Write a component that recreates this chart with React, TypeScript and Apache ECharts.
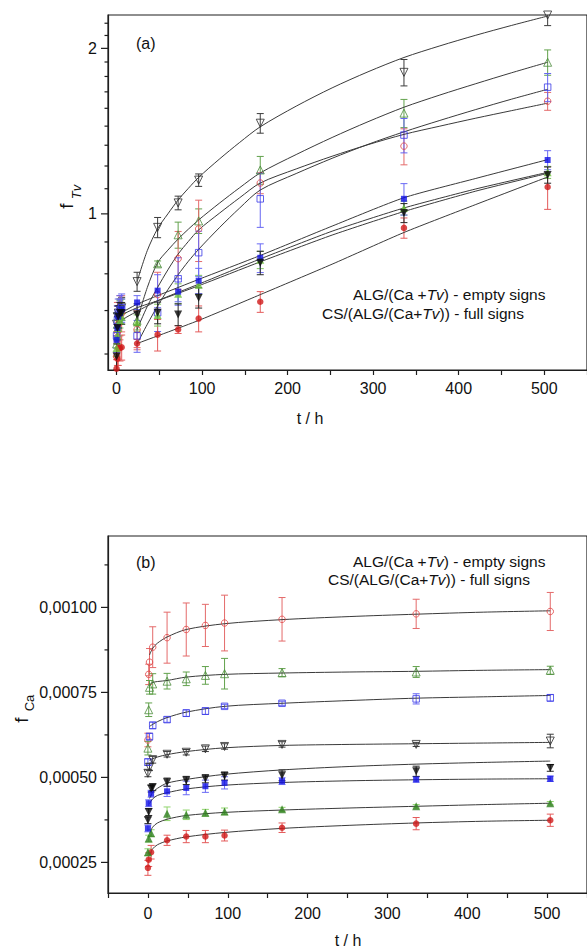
import React, { useEffect, useRef } from "react";
import * as echarts from "echarts";

const FONT = '"Liberation Sans", Arial, Helvetica, sans-serif';

// ---------------- Panel (a): f_Tv (log2 axis) ----------------
const A_T = [0, 1, 2, 4, 6, 24, 48, 72, 96, 168, 336, 504];
const A_EMPTY_DOWN = [0.63, 0.65, 0.66, 0.67, 0.675, 0.753, 0.945, 1.047, 1.152, 1.462, 1.809, 2.3];
const A_EMPTY_DOWN_ERR = [0.03, 0.03, 0.03, 0.03, 0.03, 0.03, 0.04, 0.03, 0.03, 0.06, 0.1, 0.1];
const A_EMPTY_UP = [0.58, 0.63, 0.65, 0.665, 0.67, 0.64, 0.811, 0.916, 0.971, 1.202, 1.525, 1.887];
const A_EMPTY_UP_ERR = [0.03, 0.03, 0.03, 0.03, 0.03, 0.03, 0.01, 0.05, 0.05, 0.07, 0.09, 0.1];
const A_EMPTY_CIRCLE = [0.55, 0.61, 0.63, 0.65, 0.66, 0.616, 0.713, 0.829, 0.939, 1.138, 1.328, 1.603];
const A_EMPTY_CIRCLE_ERR = [0.05, 0.08, 0.05, 0.06, 0.05, 0.05, 0.07, 0.1, 0.12, 0.05, 0.1, 0.06];
const A_EMPTY_SQUARE = [0.6, 0.64, 0.66, 0.67, 0.675, 0.6, 0.661, 0.762, 0.85, 1.065, 1.391, 1.7];
const A_EMPTY_SQUARE_ERR = [0.03, 0.04, 0.04, 0.04, 0.04, 0.04, 0.05, 0.07, 0.08, 0.12, 0.1, 0.1];
const A_FULL_SQUARE = [0.59, 0.62, 0.65, 0.66, 0.67, 0.69, 0.725, 0.722, 0.756, 0.832, 1.065, 1.253];
const A_FULL_SQUARE_ERR = [0.03, 0.03, 0.03, 0.03, 0.03, 0.02, 0.05, 0.04, 0.04, 0.05, 0.07, 0.05];
const A_FULL_UP = [0.57, 0.6, 0.62, 0.64, 0.65, 0.635, 0.655, 0.716, 0.743, 0.825, 1.025, 1.19];
const A_FULL_UP_ERR = [0.02, 0.02, 0.02, 0.02, 0.02, 0.02, 0.03, 0.03, 0.03, 0.03, 0.03, 0.03];
const A_FULL_DOWN = [0.55, 0.62, 0.65, 0.66, 0.66, 0.656, 0.661, 0.656, 0.704, 0.815, 1.004, 1.177];
const A_FULL_DOWN_ERR = [0.03, 0.03, 0.03, 0.03, 0.03, 0.03, 0.03, 0.03, 0.03, 0.04, 0.04, 0.04];
const A_FULL_CIRCLE = [0.523, 0.545, 0.57, 0.57, 0.572, 0.581, 0.603, 0.616, 0.645, 0.692, 0.943, 1.119];
const A_FULL_CIRCLE_ERR = [0.02, 0.04, 0.04, 0.03, 0.03, 0.01, 0.04, 0.01, 0.035, 0.03, 0.04, 0.1];

// fitted curves
const A_CT_OPEN = [24, 36, 48, 60, 72, 84, 96, 120, 144, 168, 210, 252, 294, 336, 378, 420, 462, 504];
const A_FIT_EMPTY_DOWN = [0.753, 0.858, 0.94, 1.0, 1.06, 1.113, 1.165, 1.257, 1.349, 1.44, 1.57, 1.695, 1.813, 1.925, 2.021, 2.113, 2.202, 2.29];
const A_FIT_EMPTY_UP = [0.64, 0.735, 0.815, 0.859, 0.9, 0.938, 0.975, 1.045, 1.116, 1.187, 1.282, 1.377, 1.471, 1.563, 1.645, 1.725, 1.806, 1.887];
const A_FIT_EMPTY_CIRCLE = [0.616, 0.679, 0.735, 0.791, 0.845, 0.891, 0.935, 1.002, 1.07, 1.138, 1.207, 1.273, 1.336, 1.395, 1.444, 1.493, 1.541, 1.59];
const A_FIT_EMPTY_SQUARE = [0.58, 0.63, 0.68, 0.728, 0.775, 0.82, 0.862, 0.943, 1.025, 1.105, 1.184, 1.262, 1.338, 1.41, 1.479, 1.548, 1.617, 1.685];
const A_CT_RED = [24, 96, 168, 252, 336, 420, 504];
const A_FIT_FULL_CIRCLE = [0.581, 0.64, 0.713, 0.81, 0.925, 1.04, 1.167];
const A_CT_FULL = [1, 24, 48, 96, 168, 252, 336, 420, 504];
const A_FIT_FULL_SQUARE = [0.655, 0.685, 0.71, 0.76, 0.84, 0.95, 1.07, 1.16, 1.255];
const A_FIT_FULL_UP = [0.635, 0.665, 0.695, 0.745, 0.828, 0.93, 1.025, 1.11, 1.19];
const A_FIT_FULL_DOWN = [0.65, 0.675, 0.695, 0.74, 0.818, 0.915, 1.01, 1.1, 1.185];

const A_X_TICKS = [0, 50, 100, 150, 200, 250, 300, 350, 400, 450, 500, 550];
const A_X_LABELS = [0, 100, 200, 300, 400, 500];
const A_Y_MAJOR = [1, 2];
const A_Y_MINOR = [0.556, 0.667, 0.778, 0.889, 1.111, 1.222, 1.333, 1.444, 1.556, 1.667, 1.778, 1.889, 2.111, 2.222];

// ---------------- Panel (b): f_Ca ----------------
const B_T = [0, 1, 2, 4, 6, 24, 48, 72, 96, 168, 336, 504];
const B_EMPTY_CIRCLE = [0.00061, 0.000803, 0.000839, null, 0.000883, 0.000911, 0.000935, 0.000947, 0.000954, 0.000965, 0.000981, 0.000988];
const B_EMPTY_CIRCLE_ERR = [0.00002, 0.00003, 0.00004, null, 0.00006, 0.000075, 0.000078, 0.000062, 0.000082, 0.000064, 0.000043, 0.000056];
const B_EMPTY_UP = [0.000586, 0.000699, 0.000765, null, 0.000775, 0.000783, 0.00079, 0.0008, 0.000805, 0.000808, 0.00081, 0.000815];
const B_EMPTY_UP_ERR = [0.00002, 0.00002, 0.00002, null, 0.00003, 0.000023, 0.00002, 0.000026, 0.000045, 0.000012, 0.000016, 0.000012];
const B_EMPTY_SQUARE = [0.000545, null, 0.00062, null, 0.000653, 0.00067, 0.000689, 0.000695, 0.000709, 0.000718, 0.000731, 0.000734];
const B_EMPTY_SQUARE_ERR = [0.00001, null, 0.00001, null, 0.00001, 0.000008, 0.00001, 0.00001, 0.000006, 0.000006, 0.000015, 0.00001];
const B_EMPTY_DOWN = [0.000512, null, 0.00053, null, 0.000552, 0.000568, 0.000574, 0.000584, 0.000591, 0.000597, 0.000597, 0.000607];
const B_EMPTY_DOWN_ERR = [0.00001, null, 0.00001, null, 0.00001, 0.000008, 0.000008, 0.000008, 0.000008, 0.000008, 0.000006, 0.00002];
const B_FULL_DOWN = [0.000374, 0.000398, null, 0.000467, 0.000471, 0.000486, 0.000491, 0.000496, 0.000504, 0.000506, 0.000518, 0.000528];
const B_FULL_DOWN_ERR = [0.00001, 0.00001, null, 0.00001, 0.00001, 0.000012, 0.000012, 0.000012, 0.000012, 0.000016, 0.000015, 0.00001];
const B_FULL_SQUARE = [0.00035, 0.000424, null, 0.000452, null, 0.000459, 0.000469, 0.000474, 0.000484, 0.000489, 0.000494, 0.000496];
const B_FULL_SQUARE_ERR = [0.00001, 0.00001, null, 0.00001, null, 0.000015, 0.00002, 0.000018, 0.000018, 0.00001, 0.000008, 0.000008];
const B_FULL_UP = [0.00028, 0.00032, null, 0.000336, null, 0.000393, 0.00039, 0.000396, 0.0004, 0.000406, 0.000415, 0.000424];
const B_FULL_UP_ERR = [0.00001, 0.00001, null, 0.00001, null, 0.00002, 0.000014, 0.00001, 0.00001, 0.000006, 0.000005, 0.000005];
const B_FULL_CIRCLE = [0.000234, 0.000258, null, 0.00028, null, 0.000315, 0.000326, 0.000326, 0.000329, 0.000352, 0.000364, 0.000374];
const B_FULL_CIRCLE_ERR = [0.000022, 0.00002, null, 0.00002, null, 0.000015, 0.000018, 0.000018, 0.000016, 0.000014, 0.000018, 0.000018];

const B_CT = [2, 6, 12, 24, 48, 96, 168, 252, 336, 420, 504];
const B_FIT_EMPTY_CIRCLE = [0.00086, 0.00088, 0.000895, 0.000913, 0.000935, 0.000952, 0.000964, 0.000973, 0.00098, 0.000986, 0.00099];
const B_FIT_EMPTY_UP = [0.000771, 0.000779, 0.000782, 0.000785, 0.000795, 0.000803, 0.000807, 0.00081, 0.000812, 0.000815, 0.000817];
const B_FIT_EMPTY_SQUARE = [0.00065, 0.000656, 0.000664, 0.000676, 0.000692, 0.000709, 0.000718, 0.000726, 0.000733, 0.000737, 0.000741];
const B_FIT_EMPTY_DOWN = [0.00055, 0.000555, 0.00056, 0.000567, 0.000576, 0.000587, 0.000594, 0.000597, 0.000599, 0.000601, 0.000603];
const B_FIT_FULL_DOWN = [0.000438, 0.000456, 0.000468, 0.000483, 0.000494, 0.000509, 0.000522, 0.000532, 0.000539, 0.000544, 0.000548];
const B_FIT_FULL_SQUARE = [0.000423, 0.000437, 0.000447, 0.000455, 0.000466, 0.000477, 0.000485, 0.00049, 0.000493, 0.000495, 0.000496];
const B_FIT_FULL_UP = [0.000335, 0.000354, 0.000366, 0.000377, 0.000388, 0.000397, 0.000404, 0.00041, 0.000415, 0.00042, 0.000424];
const B_FIT_FULL_CIRCLE = [0.000271, 0.00029, 0.000302, 0.000313, 0.000325, 0.000338, 0.00035, 0.000359, 0.000366, 0.000371, 0.000374];

const B_X_TICKS = [-50, 0, 50, 100, 150, 200, 250, 300, 350, 400, 450, 500, 550];
const B_X_LABELS = [0, 100, 200, 300, 400, 500];
const B_Y_MAJOR = [0.00025, 0.0005, 0.00075, 0.001];
const B_Y_MINOR = [0.000375, 0.000625, 0.000875, 0.001125];

// ---------------- styles ----------------
type St = { symbol: string; rotate: number; size: number; fill: boolean; color: string; bar: string };
const ST_EMPTY_DOWN: St = { symbol: "triangle", rotate: 180, size: 8, fill: false, color: "#2a2a2a", bar: "#3c3c3c" };
const ST_EMPTY_UP: St = { symbol: "triangle", rotate: 0, size: 8, fill: false, color: "#4c8c3c", bar: "#62a24c" };
const ST_EMPTY_CIRCLE: St = { symbol: "circle", rotate: 0, size: 6.5, fill: false, color: "#e04545", bar: "#e46a6a" };
const ST_EMPTY_SQUARE: St = { symbol: "rect", rotate: 0, size: 6.5, fill: false, color: "#3a3ae6", bar: "#6666f2" };
const ST_FULL_SQUARE: St = { symbol: "rect", rotate: 0, size: 6, fill: true, color: "#1212e6", bar: "#6a6af5" };
const ST_FULL_UP_A: St = { symbol: "triangle", rotate: 0, size: 8, fill: true, color: "#6cc23a", bar: "#7cc45a" };
const ST_FULL_UP_B: St = { symbol: "triangle", rotate: 0, size: 8, fill: true, color: "#2f7f1f", bar: "#90d46c" };
const ST_FULL_DOWN: St = { symbol: "triangle", rotate: 180, size: 8, fill: true, color: "#0a0a0a", bar: "#262626" };
const ST_FULL_CIRCLE: St = { symbol: "circle", rotate: 0, size: 6.5, fill: true, color: "#cf1a1a", bar: "#e45a5a" };

const AXIS_COLOR = "#1e1e1e";

function pts(times: number[], vals: (number | null)[], errs: (number | null)[]) {
  const out: number[][] = [];
  times.forEach((t, i) => {
    const v = vals[i];
    if (v != null) out.push([t, v, errs[i] ?? 0]);
  });
  return out;
}

function errRender(color: string) {
  return (_p: any, api: any) => {
    const t = api.value(0);
    const v = api.value(1);
    const e = api.value(2);
    const a = api.coord([t, v + e]);
    const b = api.coord([t, v - e]);
    const w = 3.5;
    const st = { stroke: color, lineWidth: 1 };
    return {
      type: "group",
      children: [
        { type: "line", shape: { x1: a[0], y1: a[1], x2: b[0], y2: b[1] }, style: st },
        { type: "line", shape: { x1: a[0] - w, y1: a[1], x2: a[0] + w, y2: a[1] }, style: st },
        { type: "line", shape: { x1: b[0] - w, y1: b[1], x2: b[0] + w, y2: b[1] }, style: st },
      ],
    };
  };
}

type Group = { vals: (number | null)[]; errs: (number | null)[]; ct: number[]; fit: number[]; st: St; smooth: number };

function panelSeries(g: number, times: number[], groups: Group[]) {
  const s: any[] = [];
  groups.forEach((gr) => {
    const p = pts(times, gr.vals, gr.errs);
    s.push({
      type: "custom", xAxisIndex: g, yAxisIndex: g, clip: true, silent: true, z: 2,
      data: p, encode: { x: 0, y: 1 }, renderItem: errRender(gr.st.bar),
    });
    s.push({
      type: "line", xAxisIndex: g, yAxisIndex: g, silent: true, z: 3,
      data: gr.ct.map((t, i) => [t, gr.fit[i]]),
      smooth: gr.smooth, symbol: "none", showSymbol: false,
      lineStyle: { color: "#3a3a3a", width: 1 },
    });
    s.push({
      type: "scatter", xAxisIndex: g, yAxisIndex: g, silent: true, z: 4,
      data: p.map((q) => [q[0], q[1]]),
      symbol: gr.st.symbol, symbolRotate: gr.st.rotate, symbolSize: gr.st.size,
      itemStyle: gr.st.fill
        ? { color: gr.st.color }
        : { color: "rgba(255,255,255,0)", borderColor: gr.st.color, borderWidth: 1 },
    });
  });
  return s;
}

function tickSeries(g: number, xAt: number, major: number[], minor: number[]) {
  const data = [...major.map((v) => [xAt, v, 1]), ...minor.map((v) => [xAt, v, 0])];
  return {
    type: "custom", xAxisIndex: g, yAxisIndex: g, clip: false, silent: true, z: 6,
    data, encode: { x: 0, y: 1 },
    renderItem: (_p: any, api: any) => {
      const c = api.coord([api.value(0), api.value(1)]);
      const len = api.value(2) ? 7 : 3.5;
      return { type: "line", shape: { x1: c[0] - len, y1: c[1], x2: c[0], y2: c[1] }, style: { stroke: AXIS_COLOR, lineWidth: 1.2 } };
    },
  };
}

const RICH = {
  n: { fontSize: 15.5, fontFamily: FONT, fill: "#111" },
  i: { fontSize: 15.5, fontFamily: FONT, fontStyle: "italic", fill: "#111" },
};

function txt(x: number, y: number, text: string, extra: any = {}) {
  return {
    type: "text", x, y, silent: true,
    style: { text, fontSize: 16, fontFamily: FONT, fill: "#111", verticalAlign: "middle", ...extra },
  };
}

function rotTxt(x: number, y: number, text: string, size: number, italic: boolean) {
  return {
    type: "text", x, y, rotation: Math.PI / 2, silent: true,
    style: { text, fontSize: size, fontFamily: FONT, fontStyle: italic ? "italic" : "normal", fill: "#111", align: "center", verticalAlign: "middle" },
  };
}

export default function App() {
  const ref = useRef<HTMLDivElement>(null);
  useEffect(() => {
    document.body.style.margin = "0";
    if (!ref.current) return;
    const chart = echarts.init(ref.current, null, { renderer: "svg" });

    const axisLine = { show: true, onZero: false, lineStyle: { color: AXIS_COLOR, width: 1.2 } };
    const labelBase = { fontSize: 16, color: "#111", fontFamily: FONT };

    const groupsA: Group[] = [
      { vals: A_EMPTY_DOWN, errs: A_EMPTY_DOWN_ERR, ct: A_CT_OPEN, fit: A_FIT_EMPTY_DOWN, st: ST_EMPTY_DOWN, smooth: 0.3 },
      { vals: A_EMPTY_UP, errs: A_EMPTY_UP_ERR, ct: A_CT_OPEN, fit: A_FIT_EMPTY_UP, st: ST_EMPTY_UP, smooth: 0.3 },
      { vals: A_EMPTY_CIRCLE, errs: A_EMPTY_CIRCLE_ERR, ct: A_CT_OPEN, fit: A_FIT_EMPTY_CIRCLE, st: ST_EMPTY_CIRCLE, smooth: 0.3 },
      { vals: A_EMPTY_SQUARE, errs: A_EMPTY_SQUARE_ERR, ct: A_CT_OPEN, fit: A_FIT_EMPTY_SQUARE, st: ST_EMPTY_SQUARE, smooth: 0.3 },
      { vals: A_FULL_CIRCLE, errs: A_FULL_CIRCLE_ERR, ct: A_CT_RED, fit: A_FIT_FULL_CIRCLE, st: ST_FULL_CIRCLE, smooth: 0.2 },
      { vals: A_FULL_UP, errs: A_FULL_UP_ERR, ct: A_CT_FULL, fit: A_FIT_FULL_UP, st: ST_FULL_UP_A, smooth: 0.2 },
      { vals: A_FULL_SQUARE, errs: A_FULL_SQUARE_ERR, ct: A_CT_FULL, fit: A_FIT_FULL_SQUARE, st: ST_FULL_SQUARE, smooth: 0.2 },
      { vals: A_FULL_DOWN, errs: A_FULL_DOWN_ERR, ct: A_CT_FULL, fit: A_FIT_FULL_DOWN, st: ST_FULL_DOWN, smooth: 0.2 },
    ];
    const groupsB: Group[] = [
      { vals: B_EMPTY_CIRCLE, errs: B_EMPTY_CIRCLE_ERR, ct: B_CT, fit: B_FIT_EMPTY_CIRCLE, st: ST_EMPTY_CIRCLE, smooth: 0.3 },
      { vals: B_EMPTY_UP, errs: B_EMPTY_UP_ERR, ct: B_CT, fit: B_FIT_EMPTY_UP, st: ST_EMPTY_UP, smooth: 0.3 },
      { vals: B_EMPTY_SQUARE, errs: B_EMPTY_SQUARE_ERR, ct: B_CT, fit: B_FIT_EMPTY_SQUARE, st: ST_EMPTY_SQUARE, smooth: 0.3 },
      { vals: B_EMPTY_DOWN, errs: B_EMPTY_DOWN_ERR, ct: B_CT, fit: B_FIT_EMPTY_DOWN, st: ST_EMPTY_DOWN, smooth: 0.3 },
      { vals: B_FULL_CIRCLE, errs: B_FULL_CIRCLE_ERR, ct: B_CT, fit: B_FIT_FULL_CIRCLE, st: ST_FULL_CIRCLE, smooth: 0.3 },
      { vals: B_FULL_UP, errs: B_FULL_UP_ERR, ct: B_CT, fit: B_FIT_FULL_UP, st: ST_FULL_UP_B, smooth: 0.3 },
      { vals: B_FULL_SQUARE, errs: B_FULL_SQUARE_ERR, ct: B_CT, fit: B_FIT_FULL_SQUARE, st: ST_FULL_SQUARE, smooth: 0.3 },
      { vals: B_FULL_DOWN, errs: B_FULL_DOWN_ERR, ct: B_CT, fit: B_FIT_FULL_DOWN, st: ST_FULL_DOWN, smooth: 0.3 },
    ];

    const option: any = {
      animation: false,
      backgroundColor: "#ffffff",
      textStyle: { fontFamily: FONT },
      grid: [
        { left: 108, top: 15, width: 481, height: 355, show: true, borderColor: AXIS_COLOR, borderWidth: 1.2, backgroundColor: "transparent", containLabel: false },
        { left: 108, top: 536, width: 480, height: 357, show: true, borderColor: AXIS_COLOR, borderWidth: 1.2, backgroundColor: "transparent", containLabel: false },
      ],
      xAxis: [
        {
          type: "value", gridIndex: 0, min: -10, max: 550, axisLine,
          axisTick: { show: true, length: 5, customValues: A_X_TICKS, lineStyle: { color: AXIS_COLOR, width: 1.2 } },
          axisLabel: { ...labelBase, customValues: A_X_LABELS, margin: 10 },
          splitLine: { show: false },
        },
        {
          type: "value", gridIndex: 1, min: -50, max: 550, axisLine,
          axisTick: { show: true, length: 5, customValues: B_X_TICKS, lineStyle: { color: AXIS_COLOR, width: 1.2 } },
          axisLabel: { ...labelBase, customValues: B_X_LABELS, margin: 12 },
          splitLine: { show: false },
        },
      ],
      yAxis: [
        {
          type: "log", logBase: 2, gridIndex: 0, min: 0.52, max: 2.3, axisLine,
          axisTick: { show: false }, splitLine: { show: false }, minorTick: { show: false },
          axisLabel: {
            ...labelBase, margin: 11,
            formatter: (v: number) => {
              for (const m of A_Y_MAJOR) if (Math.abs(v - m) < 1e-6) return String(m);
              return "";
            },
          },
        },
        {
          type: "value", gridIndex: 1, min: 0.00016, max: 0.00121, axisLine,
          axisTick: { show: false }, splitLine: { show: false },
          axisLabel: {
            ...labelBase, margin: 11, customValues: B_Y_MAJOR,
            formatter: (v: number) => v.toFixed(5).replace(".", ","),
          },
        },
      ],
      series: [
        ...panelSeries(0, A_T, groupsA),
        ...panelSeries(1, B_T, groupsB),
        tickSeries(0, -10, A_Y_MAJOR, A_Y_MINOR),
        tickSeries(1, -50, B_Y_MAJOR, B_Y_MINOR),
      ],
      graphic: [
        txt(136, 43, "(a)"),
        txt(136, 562, "(b)"),
        txt(353, 294, "{n|ALG/(Ca +}{i|Tv}{n|) - empty signs}", { rich: RICH }),
        txt(322, 313, "{n|CS/(ALG/(Ca+}{i|Tv}{n|)) - full signs}", { rich: RICH }),
        txt(353, 561, "{n|ALG/(Ca +}{i|Tv}{n|) - empty signs}", { rich: RICH }),
        txt(328, 579, "{n|CS/(ALG/(Ca+}{i|Tv}{n|)) - full signs}", { rich: RICH }),
        txt(310, 418, "t / h", { align: "center" }),
        txt(348, 940, "t / h", { align: "center" }),
        rotTxt(66, 206, "f", 19, false),
        rotTxt(76, 192, "Tv", 13, true),
        rotTxt(21, 720, "f", 19, false),
        rotTxt(29, 703, "Ca", 13, false),
      ],
    };
    chart.setOption(option);
    return () => chart.dispose();
  }, []);
  return <div ref={ref} style={{ width: 587, height: 949 }} />;
}
